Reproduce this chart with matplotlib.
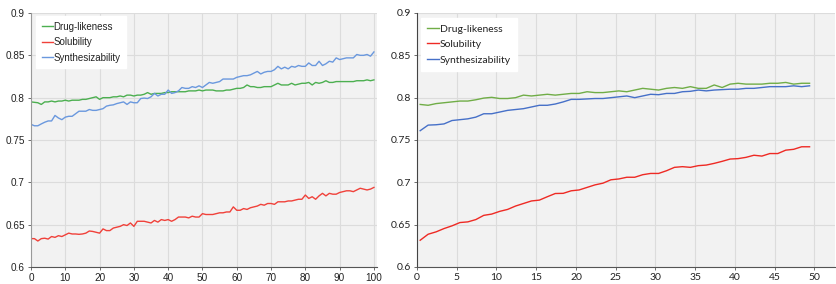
import matplotlib
matplotlib.use("Agg")
import matplotlib.pyplot as plt
import numpy as np

# ---------------- data ----------------
series_names = ["Drug-likeness", "Solubility", "Synthesizability"]

left_x = list(range(0, 101))
left_drug = [0.795, 0.7945, 0.794, 0.792, 0.795, 0.795, 0.796, 0.795, 0.796, 0.796,
             0.797, 0.796, 0.797, 0.797, 0.797, 0.798, 0.798, 0.799, 0.800, 0.801,
             0.798, 0.800, 0.800, 0.800, 0.801, 0.801, 0.802, 0.801, 0.803, 0.803,
             0.802, 0.803, 0.803, 0.804, 0.806, 0.804, 0.805, 0.805, 0.805, 0.806,
             0.806, 0.807, 0.807, 0.807, 0.807, 0.807, 0.808, 0.808, 0.808, 0.809,
             0.808, 0.809, 0.809, 0.809, 0.808, 0.808, 0.808, 0.809, 0.809, 0.810,
             0.811, 0.811, 0.812, 0.815, 0.813, 0.813, 0.812, 0.812, 0.813, 0.813,
             0.813, 0.815, 0.817, 0.815, 0.815, 0.815, 0.817, 0.815, 0.816, 0.817,
             0.817, 0.818, 0.815, 0.818, 0.817, 0.818, 0.820, 0.818, 0.818, 0.819,
             0.819, 0.819, 0.819, 0.819, 0.819, 0.820, 0.820, 0.820, 0.821, 0.820,
             0.821]
left_sol = [0.6335, 0.6335, 0.6307, 0.6335, 0.634, 0.633, 0.636, 0.635, 0.637, 0.636,
            0.638, 0.640, 0.639, 0.639, 0.6386, 0.639, 0.640, 0.6425, 0.642, 0.641,
            0.640, 0.645, 0.643, 0.643, 0.646, 0.647, 0.648, 0.650, 0.649, 0.652,
            0.648, 0.654, 0.654, 0.654, 0.653, 0.652, 0.655, 0.653, 0.656, 0.655,
            0.656, 0.654, 0.656, 0.659, 0.659, 0.659, 0.658, 0.660, 0.659, 0.659,
            0.663, 0.662, 0.662, 0.662, 0.663, 0.664, 0.664, 0.665, 0.665, 0.671,
            0.667, 0.667, 0.669, 0.668, 0.670, 0.671, 0.672, 0.674, 0.673, 0.675,
            0.675, 0.674, 0.677, 0.677, 0.677, 0.678, 0.678, 0.679, 0.680, 0.680,
            0.685, 0.681, 0.683, 0.680, 0.684, 0.687, 0.684, 0.687, 0.686, 0.686,
            0.688, 0.689, 0.690, 0.690, 0.689, 0.691, 0.693, 0.692, 0.691, 0.692,
            0.694]
left_syn = [0.7685, 0.7668, 0.7668, 0.769, 0.771, 0.7725, 0.7725, 0.779, 0.776, 0.774,
            0.777, 0.778, 0.778, 0.781, 0.784, 0.784, 0.784, 0.786, 0.785, 0.785,
            0.786, 0.787, 0.790, 0.791, 0.7915, 0.793, 0.794, 0.795, 0.792, 0.795,
            0.794, 0.794, 0.799, 0.7995, 0.799, 0.801, 0.805, 0.802, 0.804, 0.804,
            0.809, 0.805, 0.806, 0.808, 0.812, 0.811, 0.811, 0.813, 0.812, 0.814,
            0.812, 0.815, 0.818, 0.817, 0.818, 0.819, 0.822, 0.822, 0.822, 0.822,
            0.824, 0.825, 0.826, 0.826, 0.827, 0.829, 0.831, 0.828, 0.830, 0.831,
            0.831, 0.833, 0.837, 0.834, 0.836, 0.834, 0.837, 0.836, 0.838, 0.837,
            0.837, 0.841, 0.838, 0.838, 0.843, 0.838, 0.840, 0.843, 0.842, 0.847,
            0.845, 0.846, 0.847, 0.847, 0.847, 0.851, 0.850, 0.850, 0.851, 0.849,
            0.854]

right_x = [i + 0.4 for i in range(50)]
right_drug = [0.792, 0.791, 0.793, 0.794, 0.795, 0.796, 0.796, 0.7975, 0.7995, 0.8004,
              0.799, 0.799, 0.800, 0.803, 0.802, 0.803, 0.804, 0.803, 0.804, 0.805,
              0.805, 0.807, 0.806, 0.806, 0.807, 0.808, 0.807, 0.809, 0.811, 0.810,
              0.809, 0.811, 0.812, 0.811, 0.813, 0.811, 0.811, 0.815, 0.812, 0.816,
              0.817, 0.816, 0.816, 0.816, 0.817, 0.817, 0.818, 0.816, 0.817, 0.817]
right_sol = [0.6316, 0.6387, 0.6415, 0.6454, 0.6486, 0.6525, 0.6533, 0.656, 0.661, 0.6625,
             0.6657, 0.668, 0.672, 0.675, 0.678, 0.679, 0.683, 0.6868, 0.687, 0.690,
             0.691, 0.694, 0.697, 0.699, 0.703, 0.704, 0.706, 0.706, 0.709, 0.7105,
             0.7105, 0.7137, 0.7177, 0.7185, 0.7177, 0.7197, 0.7204, 0.7224, 0.7248, 0.7275,
             0.728, 0.7295, 0.732, 0.731, 0.734, 0.734, 0.738, 0.739, 0.742, 0.742]
right_syn = [0.761, 0.7676, 0.768, 0.769, 0.773, 0.774, 0.775, 0.777, 0.781, 0.781,
             0.783, 0.785, 0.786, 0.787, 0.789, 0.791, 0.791, 0.7925, 0.795, 0.798,
             0.798, 0.7985, 0.799, 0.799, 0.800, 0.801, 0.802, 0.800, 0.802, 0.804,
             0.8035, 0.805, 0.805, 0.807, 0.8075, 0.809, 0.808, 0.809, 0.8095, 0.810,
             0.810, 0.811, 0.811, 0.812, 0.813, 0.813, 0.813, 0.814, 0.813, 0.814]

y_ticks = [0.6, 0.65, 0.7, 0.75, 0.8, 0.85, 0.9]
y_tick_labels = ["0.6", "0.65", "0.7", "0.75", "0.8", "0.85", "0.9"]
left_x_ticks = list(range(0, 101, 10))
right_x_ticks = list(range(0, 51, 5))

left_colors = ["#4caf50", "#f0413a", "#6a98de"]
right_colors = ["#70ad47", "#ee2a24", "#4670c8"]

# ---------------- figure ----------------
W, H = 836, 284
fig = plt.figure(figsize=(W / 100, H / 100), dpi=100)
fig.patch.set_facecolor("white")

def px_axes(l, t, r, b):
    return fig.add_axes([l / W, 1 - b / H, (r - l) / W, (b - t) / H])

axL = px_axes(31, 13, 377, 267)
axR = px_axes(417, 13, 835, 267)

def style(ax, xticks, xlim, font, fs, left_spine_color):
    ax.set_facecolor("#f2f2f2")
    ax.set_ylim(0.6, 0.9)
    ax.set_xlim(*xlim)
    ax.set_yticks(y_ticks)
    ax.set_yticklabels(y_tick_labels)
    ax.set_xticks(xticks)
    ax.set_xticklabels([str(t) for t in xticks])
    ax.grid(True, color="#dcdcdc", linewidth=0.8)
    ax.set_axisbelow(True)
    for s in ["top", "right"]:
        ax.spines[s].set_visible(False)
    ax.spines["left"].set_color(left_spine_color)
    ax.spines["bottom"].set_color("#555555")
    ax.spines["left"].set_linewidth(0.8)
    ax.spines["bottom"].set_linewidth(0.8)
    ax.tick_params(axis="both", length=2.5, width=0.6, color="#555555",
                   labelsize=fs, pad=2, labelcolor="#222222")
    for lab in ax.get_xticklabels() + ax.get_yticklabels():
        lab.set_family(font)

style(axL, left_x_ticks, (0, 100.9), ["Liberation Sans Narrow", "Liberation Sans", "DejaVu Sans"], 7.2, "#9a9a9a")
style(axR, right_x_ticks, (0, 52.6), ["Lato", "DejaVu Sans"], 7.5, "#444444")

for ys, name, c in zip([left_drug, left_sol, left_syn], series_names, left_colors):
    axL.plot(left_x, ys, color=c, linewidth=1.0, label=name)
for ys, name, c in zip([right_drug, right_sol, right_syn], series_names, right_colors):
    axR.plot(right_x, ys, color=c, linewidth=1.0, label=name)

legL = axL.legend(loc="upper left", bbox_to_anchor=(5 / 346, 1 - 3 / 254),
                  borderaxespad=0, frameon=True, fancybox=False, facecolor="white",
                  edgecolor="white", framealpha=1, handlelength=1.1, handletextpad=0.1,
                  labelspacing=0.55, borderpad=0.6,
                  prop={"family": ["Liberation Sans Narrow", "Liberation Sans", "DejaVu Sans"], "size": 7})
legR = axR.legend(loc="upper left", bbox_to_anchor=(4 / 418, 1 - 5 / 254),
                  borderaxespad=0, frameon=True, fancybox=False, facecolor="white",
                  edgecolor="white", framealpha=1, handlelength=1.1, handletextpad=0.1,
                  labelspacing=0.6, borderpad=0.6,
                  prop={"family": ["Lato", "DejaVu Sans"], "size": 7.5})
for leg in (legL, legR):
    for t in leg.get_texts():
        t.set_color("#222222")

fig.savefig("out.png", dpi=100, facecolor="white")
